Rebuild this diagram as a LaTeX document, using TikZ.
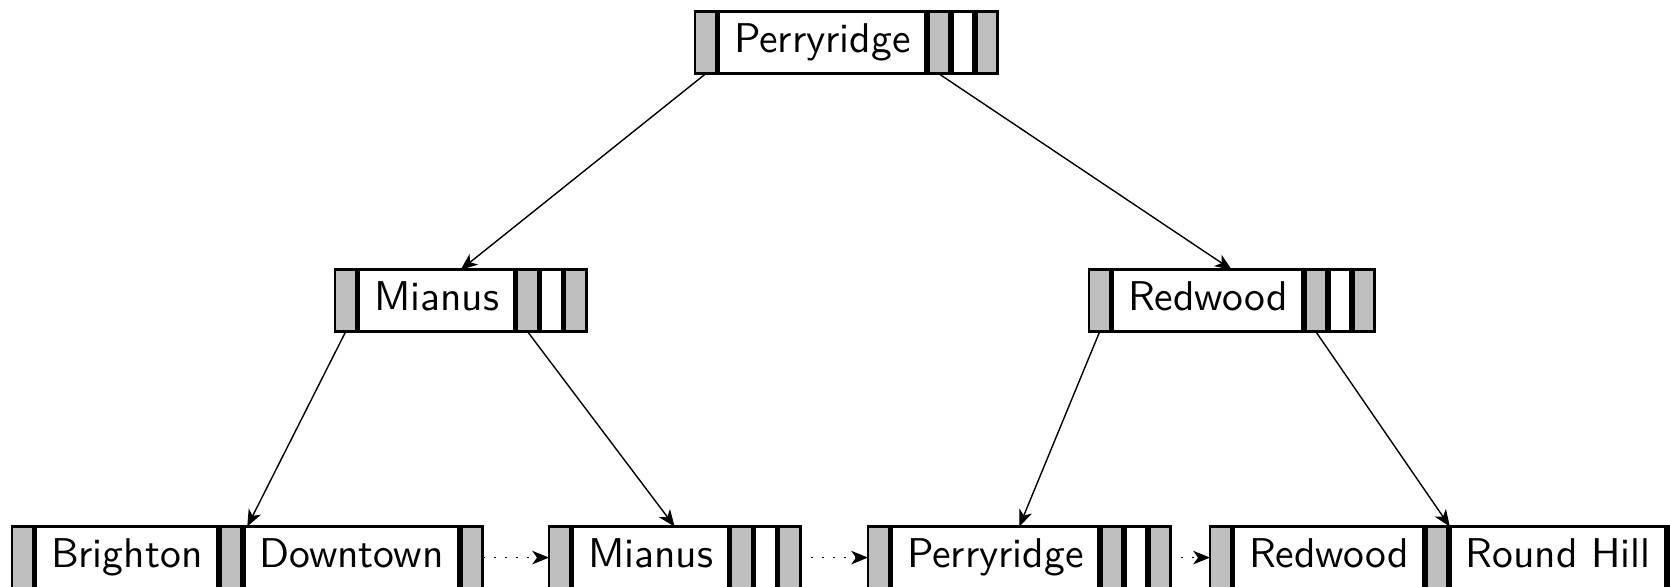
\documentclass[tikz,border=0pt]{standalone}
\usetikzlibrary{positioning,fit,arrows.meta}
\tikzset{
  cell/.style={draw,line width=0.65pt,minimum height=15.5pt,outer sep=0pt,inner ysep=0pt},
  ptrcell/.style={cell,fill=black!25,minimum width=5.3pt,inner xsep=0pt},
  emptycell/.style={cell,fill=white,minimum width=5.3pt,inner xsep=0pt},
  keycell/.style={cell,fill=white,inner xsep=3.75pt,text height=7.5pt,text depth=2.7pt,
    font=\fontsize{10.4}{12}\selectfont\sffamily},
  group/.style={inner sep=0pt,outer sep=0pt},
  edge/.style={-{Stealth[length=4.2pt,width=3.4pt,inset=1.2pt]},line width=0.35pt},
  link/.style={edge,dash pattern=on 0.5pt off 2.25pt}
}
\begin{document}
\begin{tikzpicture}[node distance=0.7pt]
  \useasboundingbox (0,0) rectangle (417.5pt,-146.75pt);
  % root
  \node[ptrcell,anchor=west] (rp0) at (173.75pt,-10.7pt) {};
  \node[keycell,right=of rp0] (rk1) {Perryridge};
  \node[ptrcell,right=of rk1] (rp1) {};
  \node[emptycell,right=of rp1] (rk2) {};
  \node[ptrcell,right=of rk2] (rp2) {};
  \node[group,fit=(rp0)(rp2)] (root) {};
  % inner nodes
  \node[ptrcell,anchor=west] (ap0) at (83.75pt,-75.2pt) {};
  \node[keycell,right=of ap0] (ak1) {Mianus};
  \node[ptrcell,right=of ak1] (ap1) {};
  \node[emptycell,right=of ap1] (ak2) {};
  \node[ptrcell,right=of ak2] (ap2) {};
  \node[group,fit=(ap0)(ap2)] (inA) {};
  \node[ptrcell,anchor=west] (bp0) at (272.25pt,-75.2pt) {};
  \node[keycell,right=of bp0] (bk1) {Redwood};
  \node[ptrcell,right=of bk1] (bp1) {};
  \node[emptycell,right=of bp1] (bk2) {};
  \node[ptrcell,right=of bk2] (bp2) {};
  \node[group,fit=(bp0)(bp2)] (inB) {};
  % leaves
  \node[ptrcell,anchor=west] (lap0) at (3pt,-139.4pt) {};
  \node[keycell,right=of lap0] (lak1) {Brighton};
  \node[ptrcell,right=of lak1] (lap1) {};
  \node[keycell,right=of lap1] (lak2) {Downtown};
  \node[ptrcell,right=of lak2] (lap2) {};
  \node[group,fit=(lap0)(lap2)] (leafA) {};
  \node[ptrcell,anchor=west] (lbp0) at (137.25pt,-139.4pt) {};
  \node[keycell,right=of lbp0] (lbk1) {Mianus};
  \node[ptrcell,right=of lbk1] (lbp1) {};
  \node[emptycell,right=of lbp1] (lbk2) {};
  \node[ptrcell,right=of lbk2] (lbp2) {};
  \node[group,fit=(lbp0)(lbp2)] (leafB) {};
  \node[ptrcell,anchor=west] (lcp0) at (217pt,-139.4pt) {};
  \node[keycell,right=of lcp0] (lck1) {Perryridge};
  \node[ptrcell,right=of lck1] (lcp1) {};
  \node[emptycell,right=of lcp1] (lck2) {};
  \node[ptrcell,right=of lck2] (lcp2) {};
  \node[group,fit=(lcp0)(lcp2)] (leafC) {};
  \node[ptrcell,anchor=west] (ldp0) at (302.5pt,-139.4pt) {};
  \node[keycell,right=of ldp0] (ldk1) {Redwood};
  \node[ptrcell,right=of ldk1] (ldp1) {};
  \node[keycell,right=of ldp1] (ldk2) {Round Hill};
  \node[ptrcell,right=of ldk2] (ldp2) {};
  \node[group,fit=(ldp0)(ldp2)] (leafD) {};
  % tree pointers
  \draw[edge] (rp0.south) -- (inA.north);
  \draw[edge] (rp1.south) -- (inB.north);
  \draw[edge] (ap0.south) -- (leafA.north);
  \draw[edge] (ap1.south) -- (leafB.north);
  \draw[edge] (bp0.south) -- (leafC.north);
  \draw[edge] (bp1.south) -- (leafD.north);
  % leaf chain
  \draw[link] (leafA.east) -- (leafB.west);
  \draw[link] (leafB.east) -- (leafC.west);
  \draw[link] (leafC.east) -- (leafD.west);
\end{tikzpicture}
\end{document}
